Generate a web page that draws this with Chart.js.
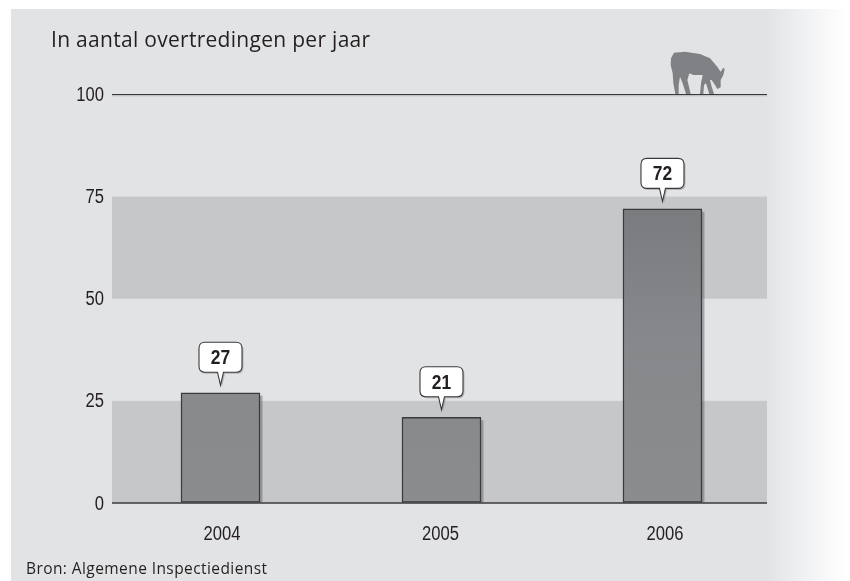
<!DOCTYPE html>
<html><head><meta charset="utf-8">
<script src="https://cdn.jsdelivr.net/npm/chart.js@4"></script>
<style>
html,body{margin:0;padding:0;background:#fff;width:850px;height:581px;overflow:hidden}
#panel{position:absolute;left:11px;top:9px;width:839px;height:572px;background:linear-gradient(to right,#e2e3e5 0,#e2e3e5 755px,#eff0f1 790px,#fff 835px)}
canvas{position:absolute;left:0;top:0}
.t{position:absolute;color:#231f20;white-space:nowrap}
#title{left:51px;top:25px;font:21px "Open Sans",sans-serif;letter-spacing:.29px}
#source{left:26px;top:557px;font:15.5px "Open Sans",sans-serif;letter-spacing:.42px}
</style></head><body>
<div id="panel"></div>
<canvas id="c" width="850" height="581"></canvas>
<div class="t" id="title">In aantal overtredingen per jaar</div>
<div class="t" id="source">Bron: Algemene Inspectiedienst</div>
<script>
const years=[2004,2005,2006];
const values=[27,21,72];
const yTicks=[0,25,50,75,100];
const bands=[[0,25],[50,75]];
const cow=[[213,85],[222,68],[255,65],[300,72],[330,85],[350,108],[362,125],[370,113],[374,118],[370,135],[362,150],[362,172],[352,177],[345,165],[335,150],[330,150],[335,170],[342,192],[328,192],[318,160],[312,165],[310,192],[300,192],[303,160],[308,135],[280,135],[268,130],[262,150],[268,175],[272,192],[258,192],[248,160],[240,140],[236,165],[236,192],[226,192],[220,160],[218,130],[212,105]];

const F='"Liberation Sans",sans-serif';
const SQ=.83;
const yearLabelNudge=[1.5,-1,2.5];
function narrowText(ctx,txt,x,y,font,align){
  ctx.save();ctx.translate(x,y);ctx.scale(SQ,1);
  ctx.font=font;ctx.textAlign=align;ctx.textBaseline='middle';ctx.fillStyle='#231f20';
  ctx.fillText(txt,0,0);ctx.restore();
}
const decor={
  id:'decor',
  beforeDatasetsDraw(ch){
    const {ctx,chartArea:a,scales:{y}}=ch;
    ctx.save();ctx.fillStyle='#c6c7c9';
    bands.forEach(b=>ctx.fillRect(a.left,y.getPixelForValue(b[1]),a.right-a.left,y.getPixelForValue(b[0])-y.getPixelForValue(b[1])));
    ctx.fillStyle='#c9cacc';ctx.fillRect(a.left,y.getPixelForValue(100)+1,a.right-a.left,1);
    ctx.fillStyle='rgba(90,90,95,.45)';
    ch.getDatasetMeta(0).data.forEach(el=>{
      ctx.fillRect(el.x+39.5,el.y+3,2.5,el.base-el.y-3);
    });
    ctx.restore();
  },
  afterDatasetsDraw(ch){
    const {ctx,scales:{x,y}}=ch;
    ctx.save();
    ctx.strokeStyle='#3a3a3c';ctx.lineWidth=1.5;ctx.beginPath();
    ctx.moveTo(ch.chartArea.left,y.getPixelForValue(0));ctx.lineTo(ch.chartArea.right,y.getPixelForValue(0));ctx.stroke();
    ch.getDatasetMeta(0).data.forEach((el,i)=>{
      const cx=el.x,tip=el.y-7.5,b=tip-13,t=b-30,l=cx-21.5,r=cx+21.5,rad=6;
      const path=(dx,dy)=>{
        ctx.beginPath();
        ctx.moveTo(l+rad+dx,t+dy);ctx.lineTo(r-rad+dx,t+dy);ctx.quadraticCurveTo(r+dx,t+dy,r+dx,t+rad+dy);
        ctx.lineTo(r+dx,b-rad+dy);ctx.quadraticCurveTo(r+dx,b+dy,r-rad+dx,b+dy);
        ctx.lineTo(cx+3+dx,b+dy);ctx.lineTo(cx+dx,tip+dy);ctx.lineTo(cx-3+dx,b+dy);
        ctx.lineTo(l+rad+dx,b+dy);ctx.quadraticCurveTo(l+dx,b+dy,l+dx,b-rad+dy);
        ctx.lineTo(l+dx,t+rad+dy);ctx.quadraticCurveTo(l+dx,t+dy,l+rad+dx,t+dy);ctx.closePath();
      };
      path(1.5,1.5);ctx.fillStyle='rgba(120,120,125,.45)';ctx.fill();
      path(0,0);ctx.fillStyle='#fff';ctx.fill();ctx.strokeStyle='#3a3a3c';ctx.lineWidth=1.1;ctx.stroke();
      narrowText(ctx,String(values[i]),cx,(t+b)/2+1,'bold 21px '+F,'center');
    });
    ctx.fillStyle='#808184';ctx.beginPath();
    cow.forEach((p,i)=>{const X=600+p[0]/3,Y=30+p[1]/3;i?ctx.lineTo(X,Y):ctx.moveTo(X,Y);});
    ctx.closePath();ctx.fill();
    ctx.restore();
    yTicks.forEach(v=>narrowText(ctx,String(v),104,y.getPixelForValue(v)+1,'20px '+F,'right'));
    years.forEach((v,i)=>narrowText(ctx,String(v),x.getPixelForValue(v)+yearLabelNudge[i],534,'20px '+F,'center'));
  }
};
new Chart(document.getElementById('c'),{
  type:'bar',
  data:{datasets:[{
    data:years.map((x,i)=>({x,y:values[i]})),
    barThickness:79,
    borderColor:'#3a3a3c',borderWidth:1.5,borderSkipped:false,
    backgroundColor(ctx){
      const {chart,chart:{chartArea:a}}=ctx;
      if(!a)return '#7f8083';
      const el=chart.getDatasetMeta(0).data[ctx.dataIndex];
      const top=el&&isFinite(el.y)?el.y:a.top,bot=chart.scales.y.getPixelForValue(0);
      const g=chart.ctx.createLinearGradient(0,top,0,bot);
      g.addColorStop(0,'#6f7073');g.addColorStop(.6,'#87888b');g.addColorStop(1,'#8b8c8e');return g;
    }
  }]},
  options:{
    responsive:false,animation:false,
    layout:{padding:{top:94.5,right:83,left:0,bottom:0}},
    plugins:{legend:{display:false},tooltip:{enabled:false}},
    scales:{
      x:{type:'linear',offset:false,min:2003.509,max:2006.473,
        afterBuildTicks(s){s.ticks=years.map(v=>({value:v}));},
        afterFit(s){s.height=78;},
        grid:{display:false},border:{display:false},
        ticks:{display:false}
      },
      y:{min:0,max:100,
        afterBuildTicks(s){s.ticks=yTicks.map(v=>({value:v}));},
        afterFit(s){s.width=112;},
        border:{display:false},
        grid:{drawTicks:false,lineWidth:1.3,color:c=>c.tick&&c.tick.value===100?'#3a3a3c':'rgba(0,0,0,0)'},
        ticks:{display:false}
      }
    }
  },
  plugins:[decor]
});
</script>
</body></html>
